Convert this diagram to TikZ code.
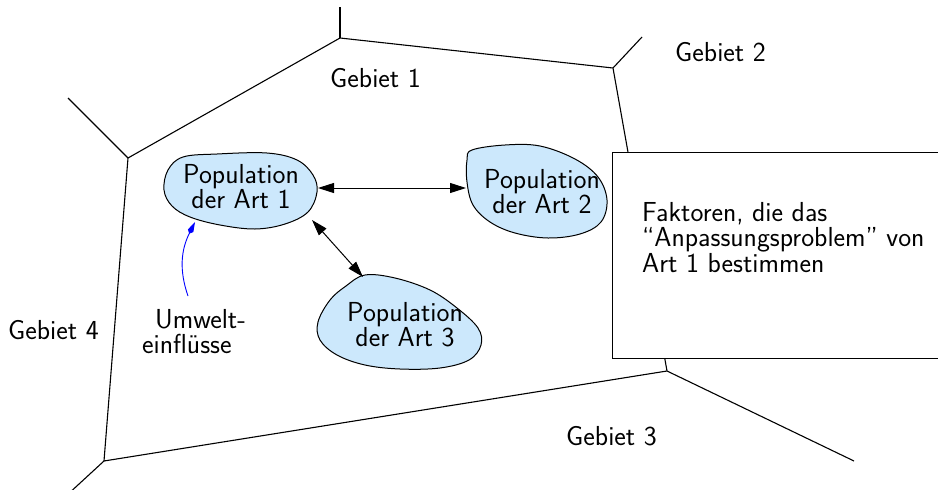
\documentclass[tikz,border=0pt]{standalone}
\usepackage{fontspec}
\usetikzlibrary{arrows.meta}
\definecolor{popblue}{RGB}{204,232,252}
\tikzset{
  border/.style={line width=1.1pt, black},
  blob/.style={draw=black, line width=1pt, fill=popblue},
  label/.style={inner sep=0pt, font=\sffamily\fontsize{27.5}{24}\selectfont},
  poptext/.style={label, align=center, anchor=north},
  link/.style={line width=1pt, {Triangle[length=16pt,width=10pt]}-{Triangle[length=16pt,width=10pt]}},
  influence/.style={line width=0.9pt, blue, -{Kite[length=13pt,width=6pt]}}
}
\begin{document}
\begin{tikzpicture}[x=1pt, y=-1pt]
  \useasboundingbox (0,0) rectangle (938,490);
  \clip (0,0) rectangle (938,490);

  % corners of the central region and the outgoing borders
  \coordinate (A) at (340,38);   \coordinate (Aout) at (340,7);
  \coordinate (B) at (613,68);   \coordinate (Bout) at (642,37);
  \coordinate (C) at (667,371);  \coordinate (Cout) at (854,461);
  \coordinate (D) at (104,461);  \coordinate (Dout) at (66,496);
  \coordinate (E) at (128,158);  \coordinate (Eout) at (68,98);

  \draw[border] (E) -- (A) -- (B) -- (C) -- (D) -- cycle;
  \draw[border] (A) -- (Aout);
  \draw[border] (B) -- (Bout);
  \draw[border] (C) -- (Cout);
  \draw[border] (D) -- (Dout);
  \draw[border] (E) -- (Eout);

  % region names
  \node[label, anchor=base west] (g1) at (330,87) {Gebiet 1};
  \node[label, anchor=base west] (g2) at (675,61) {Gebiet 2};
  \node[label, anchor=base west] (g3) at (566,445) {Gebiet 3};
  \node[label, anchor=base west] (g4) at (8,339) {Gebiet 4};

  % populations
  \path[blob] plot[smooth cycle, tension=0.6] coordinates {
    (183,157) (217,154) (267,153) (297,160) (313,175) (317,192) (308,212)
    (285,224) (255,229) (220,225) (190,217) (172,206) (164,190) (168,170)};
  \path[blob] plot[smooth cycle, tension=0.6] coordinates {
    (472,150) (505,145) (540,146) (575,159) (598,177) (607,200) (601,222)
    (580,234) (548,238) (515,233) (490,222) (473,205) (467,182) (467,160)};
  \path[blob] plot[smooth cycle, tension=0.6] coordinates {
    (365,275) (395,278) (430,290) (457,308) (478,328) (481,345) (469,360)
    (440,368) (400,369) (365,365) (337,355) (320,340) (318,322) (330,300) (346,286)};

  \node[poptext] (p1) at (241,163.9) {Population\\der Art 1};
  \node[poptext] (p2) at (542,168.9) {Population\\der Art 2};
  \node[poptext] (p3) at (405,301.9) {Population\\der Art 3};

  % contact points on the population outlines
  \coordinate (p1e) at (318,188);
  \coordinate (p2w) at (466,188);
  \coordinate (p1se) at (312,220);
  \coordinate (p3n) at (363,277);
  \coordinate (p1s) at (195,222);

  \draw[link] (p1e) -- (p2w);
  \draw[link] (p1se) -- (p3n);

  % environmental influences
  \node[label, font=\sffamily\fontsize{27.5}{25}\selectfont, align=left,
        anchor=north west] (env) at (142,308.9)
    {\hspace*{13pt}Umwelt-\\einflüsse};
  \coordinate (envtop) at (188,296);
  \draw[influence] (envtop) .. controls (179,270) and (181,250) .. (p1s);

  % factor box
  \node[draw, fill=white, line width=1.1pt, inner sep=0pt, anchor=north west,
        minimum width=360, minimum height=206] (box) at (612,152) {};
  \node[label, font=\sffamily\fontsize{27.5}{25.5}\selectfont, align=left,
        anchor=north west] (factors) at (642,201.9)
    {Faktoren, die das\\``Anpassungsproblem'' von\\Art 1 bestimmen};
\end{tikzpicture}
\end{document}
